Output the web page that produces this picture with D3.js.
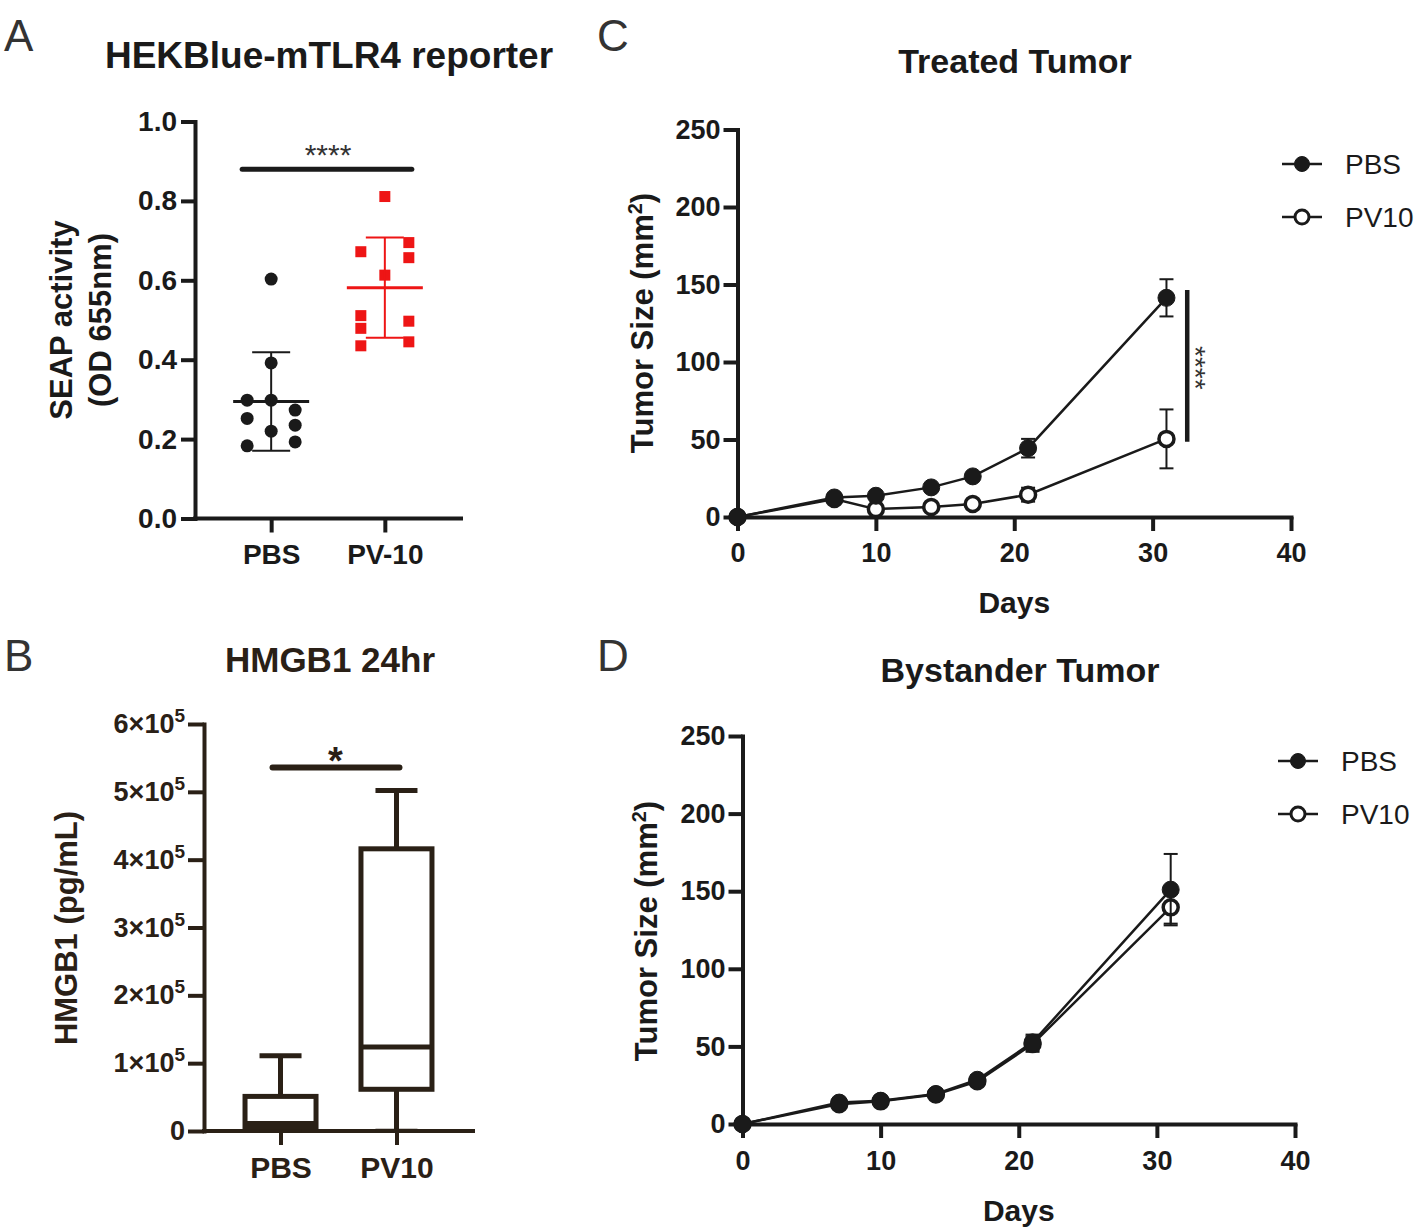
<!DOCTYPE html>
<html>
<head>
<meta charset="utf-8">
<script src="https://cdn.jsdelivr.net/npm/d3@7"></script>
<style>
	body { margin: 0; background: #fff; }
</style>
</head>
<body>
<svg id="fig" width="1418" height="1230"></svg>
<script>
// ---- panel A: HEKBlue-mTLR4 reporter (scatter, mean +/- SD)
var aCats = [ 'PBS', 'PV-10' ];
var aTicks = [ 0, 0.2, 0.4, 0.6, 0.8, 1.0 ];
var aPBS = [ 0.603, 0.392, 0.298, 0.298, 0.273, 0.252, 0.235, 0.220, 0.193, 0.183 ];
var aPBSLane = [ 0, 0, -1, 0, 1, -1, 1, 0, 1, -1 ];
var aPV10 = [ 0.811, 0.695, 0.672, 0.657, 0.613, 0.511, 0.497, 0.479, 0.445, 0.435 ];
var aPV10Lane = [ 0, 1, -1, 1, 0, -1, 1, -1, 1, -1 ];
var aSigY = 0.88;

// ---- panel B: HMGB1 24hr (box and whiskers)
var bCats = [ 'PBS', 'PV10' ];
var bTicks = [ 0, 1e5, 2e5, 3e5, 4e5, 5e5, 6e5 ];
var bMin = [ 0, 1500 ];
var bQ1 = [ 6000, 61500 ];
var bMedian = [ 11000, 124000 ];
var bQ3 = [ 51000, 416000 ];
var bMax = [ 111000, 502000 ];
var bSigY = 5.36e5;

// ---- panels C and D: tumor growth (mean +/- SEM)
var days = [ 0, 7, 10, 14, 17, 21, 31 ];
var dayTicks = [ 0, 10, 20, 30, 40 ];
var sizeTicks = [ 0, 50, 100, 150, 200, 250 ];
var cPBS = [ 0, 12.6, 13.7, 19.1, 26.2, 44.4, 141.4 ];
var cPBSErr = [ 0, 2, 2, 2, 2.5, 6, 12 ];
var cPV10 = [ 0, 11.6, 5.1, 6.4, 8.4, 14.4, 50.4 ];
var cPV10Err = [ 0, 2, 1.5, 1.5, 2, 4.5, 19 ];
var cSig = [ 48.6, 146.5 ];
var cSigDay = 32.5;
var dPBS = [ 0, 13.8, 15.0, 19.3, 28.5, 52.6, 151.0 ];
var dPBSErr = [ 0, 2, 2, 2, 3, 5, 23 ];
var dPV10 = [ 0, 12.8, 14.6, 19.0, 27.5, 51.5, 139.6 ];
var dPV10Err = [ 0, 2, 2, 2, 3, 5, 10.5 ];
var seriesNames = [ 'PBS', 'PV10' ];

var FONT = '"Liberation Sans", Arial, Helvetica, sans-serif';
var ink = '#1a1a1a';
var inkB = '#2a2016';
var red = '#ee1515';

var svg = d3.select( '#fig' ).attr( 'font-family', FONT );
svg.append( 'rect' ).attr( 'width', 1418 ).attr( 'height', 1230 ).attr( 'fill', '#fff' );

function label( parent, x, y, str, size, opts ) {
	opts = opts || {};
	var t = parent.append( 'text' )
		.attr( 'transform', 'translate(' + x + ',' + y + ')' + ( opts.rotate ? ' rotate(' + opts.rotate + ')' : '' ) )
		.attr( 'text-anchor', opts.anchor || 'middle' )
		.attr( 'dy', opts.dy || '0.35em' )
		.attr( 'font-size', size )
		.attr( 'font-weight', opts.weight || 'bold' )
		.attr( 'fill', opts.fill || ink );
	if ( str !== null ) {
		t.text( str );
	}
	return t;
}

function styleAxis( g, size, color ) {
	g.attr( 'font-family', FONT );
	g.select( '.domain' )
		.attr( 'stroke', color )
		.attr( 'stroke-width', 4 )
		.attr( 'stroke-linecap', 'square' );
	g.selectAll( '.tick line' ).attr( 'stroke', color ).attr( 'stroke-width', 4 );
	g.selectAll( '.tick text' )
		.attr( 'fill', color )
		.attr( 'font-size', size )
		.attr( 'font-weight', 'bold' );
}

// panel letters
label( svg, 4, 36, 'A', 44, { anchor: 'start', dy: 0, weight: 'normal', fill: '#333' } );
label( svg, 4, 656, 'B', 44, { anchor: 'start', dy: 0, weight: 'normal', fill: '#333' } );
label( svg, 597, 36, 'C', 44, { anchor: 'start', dy: 0, weight: 'normal', fill: '#333' } );
label( svg, 597, 656, 'D', 44, { anchor: 'start', dy: 0, weight: 'normal', fill: '#333' } );

// ================= panel A
( function() {
	var x = d3.scalePoint().domain( aCats ).range( [ 195, 461 ] ).padding( 0.67 );
	var y = d3.scaleLinear().domain( [ 0, 1 ] ).range( [ 518.5, 121.5 ] );
	var lane = d3.scaleLinear().domain( [ -1, 1 ] ).range( [ -24, 24 ] );
	var g = svg.append( 'g' );

	label( g, 329, 55, 'HEKBlue-mTLR4 reporter', 37 );
	label( g, 61, 320, 'SEAP activity', 31, { rotate: -90 } );
	label( g, 100, 320, '(OD 655nm)', 31, { rotate: -90 } );

	g.append( 'g' )
		.attr( 'transform', 'translate(195,0)' )
		.call( d3.axisLeft( y ).tickValues( aTicks ).tickFormat( d3.format( '.1f' ) )
			.tickSize( 14 ).tickSizeOuter( 0 ).tickPadding( 4 ) )
		.call( styleAxis, 28, ink );

	var xAxis = g.append( 'g' )
		.attr( 'transform', 'translate(0,518.5)' )
		.call( d3.axisBottom( x ).tickSize( 14 ).tickSizeOuter( 0 ).tickPadding( 12 ) )
		.call( styleAxis, 28, ink );
	xAxis.select( '.domain' ).attr( 'd', 'M195,0H461' );

	// significance bar
	g.append( 'line' )
		.attr( 'x1', x( 'PBS' ) - 29 ).attr( 'x2', x( 'PV-10' ) + 27 )
		.attr( 'y1', y( aSigY ) ).attr( 'y2', y( aSigY ) )
		.attr( 'stroke', ink ).attr( 'stroke-width', 5 ).attr( 'stroke-linecap', 'round' );
	label( g, ( x( 'PBS' ) + x( 'PV-10' ) ) / 2, y( aSigY ) - 21, '****', 30, { weight: 'normal', fill: '#333', dy: '0.57em' } );

	var groups = [
		{ cat: 'PBS', vals: aPBS, lanes: aPBSLane, color: ink },
		{ cat: 'PV-10', vals: aPV10, lanes: aPV10Lane, color: red }
	];
	groups.forEach( function( grp ) {
		var cx = x( grp.cat );
		var m = d3.mean( grp.vals );
		var sd = d3.deviation( grp.vals );
		var gg = g.append( 'g' );
		if ( grp.cat === 'PBS' ) {
			gg.selectAll( 'circle' ).data( grp.vals ).join( 'circle' )
				.attr( 'cx', function( d, i ) { return cx + lane( grp.lanes[ i ] ); } )
				.attr( 'cy', function( d ) { return y( d ); } )
				.attr( 'r', 6.5 )
				.attr( 'fill', grp.color );
		} else {
			gg.selectAll( 'rect' ).data( grp.vals ).join( 'rect' )
				.attr( 'x', function( d, i ) { return cx + lane( grp.lanes[ i ] ) - 5.5; } )
				.attr( 'y', function( d ) { return y( d ) - 5.5; } )
				.attr( 'width', 11 ).attr( 'height', 11 )
				.attr( 'fill', grp.color );
		}
		// mean line, SD whiskers
		gg.append( 'line' ).attr( 'x1', cx - 38 ).attr( 'x2', cx + 38 )
			.attr( 'y1', y( m ) ).attr( 'y2', y( m ) )
			.attr( 'stroke', grp.color ).attr( 'stroke-width', 3 );
		gg.append( 'line' ).attr( 'x1', cx ).attr( 'x2', cx )
			.attr( 'y1', y( m + sd ) ).attr( 'y2', y( m - sd ) )
			.attr( 'stroke', grp.color ).attr( 'stroke-width', 2 );
		[ m + sd, m - sd ].forEach( function( v ) {
			gg.append( 'line' ).attr( 'x1', cx - 19 ).attr( 'x2', cx + 19 )
				.attr( 'y1', y( v ) ).attr( 'y2', y( v ) )
				.attr( 'stroke', grp.color ).attr( 'stroke-width', 2 );
		} );
	} );
}() );

// ================= panel B
( function() {
	var x = d3.scalePoint().domain( bCats ).range( [ 204, 473 ] ).padding( 0.66 );
	var y = d3.scaleLinear().domain( [ 0, 6e5 ] ).range( [ 1131, 724 ] );
	var g = svg.append( 'g' );

	label( g, 330, 660, 'HMGB1 24hr', 35, { fill: inkB } );
	label( g, 66, 928, 'HMGB1 (pg/mL)', 31, { rotate: -90, fill: inkB } );

	var yAxis = g.append( 'g' )
		.attr( 'transform', 'translate(204,0)' )
		.call( d3.axisLeft( y ).tickValues( bTicks ).tickSize( 16 ).tickSizeOuter( 0 ).tickPadding( 3 ) )
		.call( styleAxis, 27, inkB );
	yAxis.selectAll( '.tick text' ).text( null ).each( function( d ) {
		var t = d3.select( this );
		if ( d === 0 ) {
			t.text( '0' );
			return;
		}
		t.append( 'tspan' ).text( ( d / 1e5 ) + '×10' );
		t.append( 'tspan' ).attr( 'dy', -11 ).attr( 'font-size', 19 ).text( '5' );
	} );

	var xAxis = g.append( 'g' )
		.attr( 'transform', 'translate(0,1131)' )
		.call( d3.axisBottom( x ).tickSize( 14 ).tickSizeOuter( 0 ).tickPadding( 12 ) )
		.call( styleAxis, 30, inkB );
	xAxis.select( '.domain' ).attr( 'd', 'M204,0H473' );

	var boxW = 71;
	var capW = 42;
	bCats.forEach( function( c, i ) {
		var cx = x( c );
		var gg = g.append( 'g' ).attr( 'stroke', inkB ).attr( 'stroke-width', 5 ).attr( 'fill', 'none' );
		gg.append( 'line' ).attr( 'x1', cx ).attr( 'x2', cx ).attr( 'y1', y( bMax[ i ] ) ).attr( 'y2', y( bQ3[ i ] ) );
		gg.append( 'line' ).attr( 'x1', cx ).attr( 'x2', cx ).attr( 'y1', y( bQ1[ i ] ) ).attr( 'y2', y( bMin[ i ] ) );
		gg.append( 'line' ).attr( 'x1', cx - capW / 2 ).attr( 'x2', cx + capW / 2 )
			.attr( 'y1', y( bMax[ i ] ) ).attr( 'y2', y( bMax[ i ] ) );
		gg.append( 'line' ).attr( 'x1', cx - capW / 2 ).attr( 'x2', cx + capW / 2 )
			.attr( 'y1', y( bMin[ i ] ) ).attr( 'y2', y( bMin[ i ] ) ).attr( 'stroke-width', 2.5 );
		gg.append( 'rect' ).attr( 'x', cx - boxW / 2 ).attr( 'width', boxW )
			.attr( 'y', y( bQ3[ i ] ) ).attr( 'height', y( bQ1[ i ] ) - y( bQ3[ i ] ) )
			.attr( 'fill', '#fff' );
		gg.append( 'line' ).attr( 'x1', cx - boxW / 2 ).attr( 'x2', cx + boxW / 2 )
			.attr( 'y1', y( bMedian[ i ] ) ).attr( 'y2', y( bMedian[ i ] ) );
	} );

	g.append( 'line' )
		.attr( 'x1', x( 'PBS' ) - 8 ).attr( 'x2', x( 'PV10' ) + 3 )
		.attr( 'y1', y( bSigY ) ).attr( 'y2', y( bSigY ) )
		.attr( 'stroke', inkB ).attr( 'stroke-width', 6 ).attr( 'stroke-linecap', 'round' );
	label( g, ( x( 'PBS' ) + x( 'PV10' ) ) / 2 - 3, y( bSigY ) - 15, '*', 38, { fill: inkB, dy: '0.57em' } );
}() );

// ================= panels C and D
function growthPanel( opt ) {
	var x = d3.scaleLinear().domain( [ 0, 40 ] ).range( [ opt.x0, opt.x1 ] );
	var y = d3.scaleLinear().domain( [ 0, 250 ] ).range( [ opt.y0, opt.y1 ] );
	var g = svg.append( 'g' );

	label( g, opt.titleX, opt.titleY, opt.title, 34 );
	var yl = label( g, opt.ylabX, opt.ylabY, null, 31, { rotate: -90 } );
	yl.append( 'tspan' ).text( 'Tumor Size (mm' );
	yl.append( 'tspan' ).attr( 'dy', -11 ).attr( 'font-size', 20 ).text( '2' );
	yl.append( 'tspan' ).attr( 'dy', 11 ).text( ')' );
	label( g, ( opt.x0 + x( 40 ) ) / 2, opt.daysY, 'Days', 30 );

	g.append( 'g' )
		.attr( 'transform', 'translate(' + opt.x0 + ',0)' )
		.call( d3.axisLeft( y ).tickValues( sizeTicks ).tickSize( 14 ).tickSizeOuter( 0 ).tickPadding( 3 ) )
		.call( styleAxis, 27, ink );
	g.append( 'g' )
		.attr( 'transform', 'translate(0,' + opt.y0 + ')' )
		.call( d3.axisBottom( x ).tickValues( dayTicks ).tickSize( 14 ).tickSizeOuter( 0 ).tickPadding( opt.tickPad ) )
		.call( styleAxis, 27, ink );

	var line = d3.line()
		.x( function( d ) { return x( d.day ); } )
		.y( function( d ) { return y( d.v ); } );

	var series = [
		{ name: 'PV10', vals: opt.pv10, err: opt.pv10Err, filled: false },
		{ name: 'PBS', vals: opt.pbs, err: opt.pbsErr, filled: true }
	];
	series.forEach( function( s ) {
		var pts = days.map( function( d, i ) {
			return { day: d, v: s.vals[ i ], e: s.err[ i ] };
		} );
		var gg = g.append( 'g' );
		// error bars
		pts.forEach( function( p ) {
			if ( !p.e ) {
				return;
			}
			var cx = x( p.day );
			gg.append( 'line' ).attr( 'x1', cx ).attr( 'x2', cx )
				.attr( 'y1', y( p.v + p.e ) ).attr( 'y2', y( p.v - p.e ) )
				.attr( 'stroke', ink ).attr( 'stroke-width', 2 );
			[ p.v + p.e, p.v - p.e ].forEach( function( v ) {
				gg.append( 'line' ).attr( 'x1', cx - 7 ).attr( 'x2', cx + 7 )
					.attr( 'y1', y( v ) ).attr( 'y2', y( v ) )
					.attr( 'stroke', ink ).attr( 'stroke-width', 2 );
			} );
		} );
		gg.append( 'path' ).datum( pts )
			.attr( 'fill', 'none' )
			.attr( 'stroke', ink )
			.attr( 'stroke-width', 2.5 )
			.attr( 'd', line );
		gg.selectAll( 'circle' ).data( pts ).join( 'circle' )
			.attr( 'cx', function( d ) { return x( d.day ); } )
			.attr( 'cy', function( d ) { return y( d.v ); } )
			.attr( 'r', s.filled ? 8.5 : 7.5 )
			.attr( 'fill', s.filled ? ink : '#fff' )
			.attr( 'stroke', ink )
			.attr( 'stroke-width', s.filled ? 1 : 3.5 );
	} );

	if ( opt.sig ) {
		g.append( 'line' )
			.attr( 'x1', x( opt.sigDay ) ).attr( 'x2', x( opt.sigDay ) )
			.attr( 'y1', y( opt.sig[ 1 ] ) ).attr( 'y2', y( opt.sig[ 0 ] ) )
			.attr( 'stroke', ink ).attr( 'stroke-width', 4.5 );
		label( g, x( opt.sigDay ) + 15, y( ( opt.sig[ 0 ] + opt.sig[ 1 ] ) / 2 ) + 2, '****', 28,
			{ rotate: 90, weight: 'normal', fill: '#333', dy: '0.57em' } );
	}

	// legend
	seriesNames.forEach( function( n, i ) {
		var ly = opt.legY + i * 53;
		var filled = n === 'PBS';
		g.append( 'line' ).attr( 'x1', opt.legX - 20 ).attr( 'x2', opt.legX + 20 )
			.attr( 'y1', ly ).attr( 'y2', ly ).attr( 'stroke', ink ).attr( 'stroke-width', 2.5 );
		g.append( 'circle' ).attr( 'cx', opt.legX ).attr( 'cy', ly ).attr( 'r', filled ? 7.5 : 7 )
			.attr( 'fill', filled ? ink : '#fff' ).attr( 'stroke', ink ).attr( 'stroke-width', filled ? 1 : 3 );
		label( g, opt.legX + 43, ly, n, 28, { anchor: 'start', weight: 'normal' } );
	} );
}

growthPanel( {
	x0: 737.5, x1: 1291, y0: 517, y1: 129.5,
	title: 'Treated Tumor', titleX: 1015, titleY: 61,
	ylabX: 642, ylabY: 323, daysY: 602, tickPad: 12,
	pbs: cPBS, pbsErr: cPBSErr, pv10: cPV10, pv10Err: cPV10Err,
	sig: cSig, sigDay: cSigDay,
	legX: 1302, legY: 164
} );

growthPanel( {
	x0: 742.5, x1: 1295, y0: 1124, y1: 736,
	title: 'Bystander Tumor', titleX: 1020, titleY: 670,
	ylabX: 646, ylabY: 931, daysY: 1210, tickPad: 13,
	pbs: dPBS, pbsErr: dPBSErr, pv10: dPV10, pv10Err: dPV10Err,
	legX: 1298, legY: 761
} );
</script>
</body>
</html>
